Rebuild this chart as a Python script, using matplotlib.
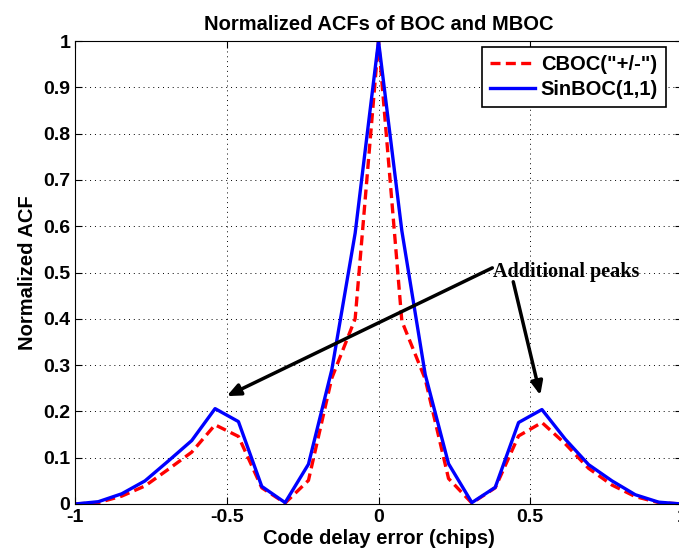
import matplotlib
matplotlib.use("Agg")
import matplotlib.pyplot as plt
import numpy as np

# code delay samples, step 1/13 chip
k = np.arange(-13, 14)
delay = k / 13.0

cboc = [0.0, 0.003, 0.017, 0.039, 0.075, 0.112, 0.171, 0.146, 0.035, 0.002, 0.051, 0.272, 0.40,
        1.0,
        0.395, 0.27, 0.055, 0.002, 0.035, 0.147, 0.176, 0.13, 0.077, 0.041, 0.016, 0.003, 0.0]
sinboc = [0.0, 0.005, 0.022, 0.05, 0.093, 0.137, 0.206, 0.178, 0.038, 0.003, 0.086, 0.29, 0.585,
          1.0,
          0.59, 0.28, 0.087, 0.003, 0.036, 0.176, 0.204, 0.14, 0.085, 0.05, 0.02, 0.004, 0.0]

plt.rcParams['font.family'] = ['Liberation Sans', 'DejaVu Sans']

fig = plt.figure(figsize=(6.79, 5.58), dpi=100)
ax = fig.add_axes([75 / 679, 54 / 558, 607 / 679, 463 / 558])

ax.plot(delay, cboc, color="red", linestyle="--", linewidth=2.4, dashes=(3, 1.6), label='CBOC("+/-")')
ax.plot(delay, sinboc, color="blue", linewidth=2.4, label="SinBOC(1,1)")

ax.set_xlim(-1, 1)
ax.set_ylim(0, 1)
ax.set_xticks([-1, -0.5, 0, 0.5, 1])
ax.set_xticklabels(["-1", "-0.5", "0", "0.5", "1"])
ax.set_yticks(np.arange(0, 1.01, 0.1))
ax.set_yticklabels(["0", "0.1", "0.2", "0.3", "0.4", "0.5", "0.6", "0.7", "0.8", "0.9", "1"])
ax.tick_params(direction="in", top=True, right=True, labelsize=14, length=5)
for lab in ax.get_xticklabels() + ax.get_yticklabels():
    lab.set_fontweight("bold")
ax.grid(color="black", linestyle=(0, (1, 4)), linewidth=0.7)

ax.set_title("Normalized ACFs of BOC and MBOC", fontsize=14.5, fontweight="bold", pad=8)
ax.set_xlabel("Code delay error (chips)", fontsize=14.5, fontweight="bold", labelpad=2)
ax.set_ylabel("Normalized ACF", fontsize=14.5, fontweight="bold", labelpad=4)

leg = ax.legend(loc="upper right", bbox_to_anchor=(666 / 679, 1 - 47 / 558),
                bbox_transform=fig.transFigure, fancybox=False, edgecolor="black",
                framealpha=1, prop={"size": 14.5, "weight": "bold"}, borderaxespad=0,
                handlelength=2.2, borderpad=0.4, labelspacing=0.3, handletextpad=0.3)
leg.get_frame().set_linewidth(1.2)

arrow = dict(arrowstyle="-|>,head_length=0.8,head_width=0.35", color="black", lw=2.5,
             shrinkA=0, shrinkB=0)
ax.text(0.378, 0.501, "Additional peaks", fontsize=14.5, fontweight="bold",
        family="Liberation Serif", va="center", ha="left")
ax.annotate("", xy=(-0.5, 0.233), xytext=(0.375, 0.51), arrowprops=arrow)
ax.annotate("", xy=(0.533, 0.235), xytext=(0.444, 0.48), arrowprops=arrow)

fig.savefig("out.png", dpi=100)
